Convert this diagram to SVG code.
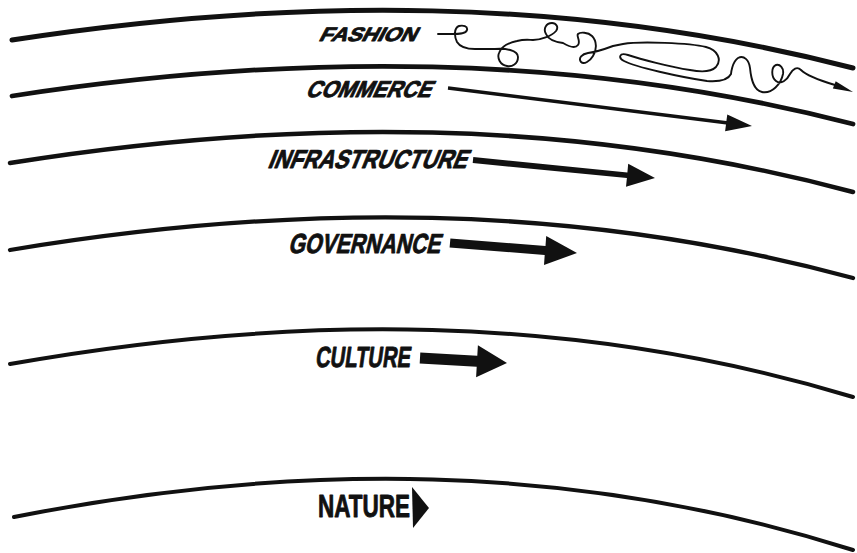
<svg xmlns="http://www.w3.org/2000/svg" width="857" height="553" viewBox="0 0 857 553">
<style>
.band{fill:none;stroke:#111;stroke-linecap:round}
.lbl{font-family:"Liberation Sans Narrow","Liberation Sans",Arial,sans-serif;font-weight:bold;fill:#111;stroke:#111;stroke-width:0.9;stroke-linejoin:round}
.arr{fill:#111;stroke:none}
.sq{fill:none;stroke:#111;stroke-width:1.9;stroke-linecap:round;stroke-linejoin:round}
</style>
<rect width="857" height="553" fill="#fff"/>
<g id="bands">
<path class="band" stroke-width="5" d="M12,40 C292,-3 573,-4 853,68"/>
<path class="band" stroke-width="4.8" d="M12,96 C292,53 573,52 853,124"/>
<path class="band" stroke-width="4.5" d="M10,163 C292,118 573,117 853,192"/>
<path class="band" stroke-width="4.3" d="M10,250 C292,203 572,202 853,278"/>
<path class="band" stroke-width="4" d="M10,364 C292,314 573,312.5 853,397"/>
<path class="band" stroke-width="4" d="M14,517 C292,462 573,461 853,550"/>
</g>
<g id="fashion"><text class="lbl" transform="translate(318,41) skewX(-28)" font-size="19.5" textLength="97" lengthAdjust="spacingAndGlyphs">FASHION</text></g>
<g id="commerce"><text class="lbl" transform="translate(305,97) skewX(-25)" font-size="23" textLength="125" lengthAdjust="spacingAndGlyphs">COMMERCE</text></g>
<g id="infrastructure"><text class="lbl" transform="translate(267,168) skewX(-22)" font-size="26" textLength="199" lengthAdjust="spacingAndGlyphs">INFRASTRUCTURE</text></g>
<g id="governance"><text class="lbl" transform="translate(288,253) skewX(-14)" font-size="27.5" textLength="152" lengthAdjust="spacingAndGlyphs">GOVERNANCE</text></g>
<g id="culture"><text class="lbl" transform="translate(315,367) skewX(-8)" font-size="29" textLength="95" lengthAdjust="spacingAndGlyphs">CULTURE</text></g>
<g id="nature"><text class="lbl" transform="translate(318,517)" font-size="31.5" textLength="92" lengthAdjust="spacingAndGlyphs">NATURE</text></g>
<g id="connectors">
<path class="sq" d="M438,34 L452,34 C458,34 466,34 467,30 C468,26 463,25 459,26 C454,28 454,36 457,42 C460,47 466,49 475,49 L495,49 C505,48 518,50 518,57 C518,64 512,67 507,66 C500,65 497,58 499,53 C501,47 508,43 517,41 C525,39 529,40 533,40 C540,40 552,36 556,31 C559,27 556,23 552,23 C546,23 543,29 546,34 C548,39 555,42 563,43 C568,46 575,49 578,45 C581,41 576,36 578,34 C580,32 588,32 592,36 C597,41 597,50 593,56 C590,61 584,65 581,62 C578,58 582,54 588,53 C596,52 605,49 613,46 L623,44 C640,41 690,43 706,47 C718,50 722,60 716,67 C711,72 700,72 690,70 C670,67 640,59 628,55 C619,52 618,58 624,61 C635,67 680,77 707,81 C720,82 728,80 731,74 C731,74 732,62 738,58 C744,55 749,60 750,68 C751,78 753,90 762,92 C772,94 781,84 783,74 C784,68 780,64 776,65 C771,67 771,77 776,81 C781,85 787,80 790,74 C793,69 797,66 801,70 C806,75 815,79 835,85"/>
<polygon class="arr" points="853,92 835.7,81.2 832.9,88.6"/>
<polygon class="arr" points="448.2,86.2 726.4,121.0 727.3,114.4 752,126 725.1,131.2 726.0,124.6 447.8,89.8"/>
<polygon class="arr" points="473.3,157.0 627.4,172.4 628.2,163.8 655,178 626.0,186.7 626.9,178.0 472.7,163.0"/>
<polygon class="arr" points="450.4,238.5 545.5,246.0 546.2,236.0 577,253 544.0,265.0 544.7,255.0 449.6,247.5"/>
<polygon class="arr" points="420.3,352.5 477.3,355.8 477.9,345.3 507,363 476.1,377.3 476.7,366.8 419.7,363.5"/>
<polygon class="arr" points="412,487 429,508 413,528"/>
</g>
</svg>
